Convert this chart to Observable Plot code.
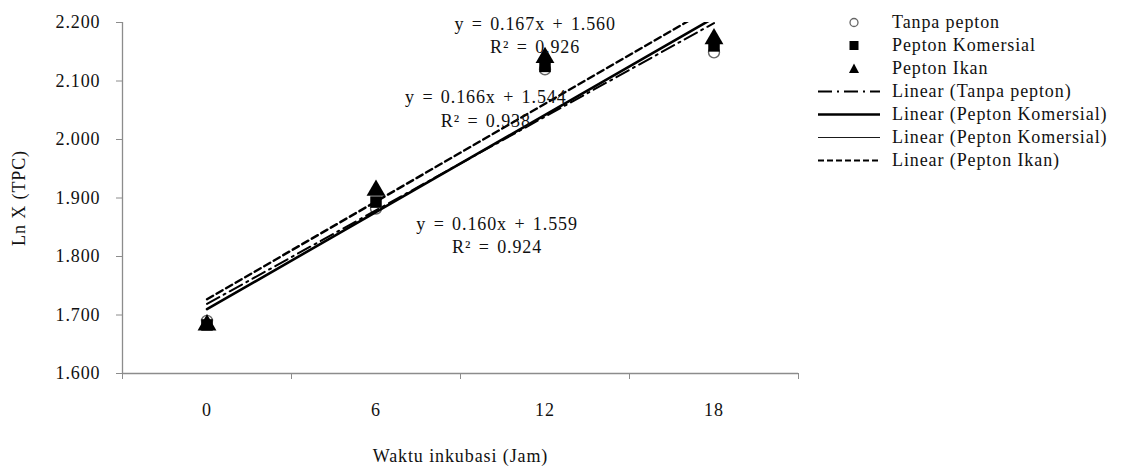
<!DOCTYPE html>
<html>
<head>
<meta charset="utf-8">
<script src="https://cdn.jsdelivr.net/npm/d3@7"></script>
<script src="https://cdn.jsdelivr.net/npm/@observablehq/plot@0.6"></script>
<style>
  html, body { margin: 0; padding: 0; background: #fff; }
  #wrap { position: relative; width: 1133px; height: 466px; font-family: "Liberation Serif", "Times New Roman", serif; }
  #legend { position: absolute; left: 816px; top: 11px; font-size: 18px; letter-spacing: 0.9px; color: #111; }
  .row { height: 23px; display: flex; align-items: center; }
  .row svg { width: 66px; height: 23px; flex: none; }
  .row span { margin-left: 10px; white-space: nowrap; }
  .eq { word-spacing: 2px; }
</style>
</head>
<body>
<div id="wrap"><div id="chart"></div><div id="legend"></div></div>
<script>
// ---- data ----
const jam = [0, 6, 12, 18];
const tanpaPepton     = [1.690, 1.882, 2.120, 2.149];
const peptonKomersial = [1.683, 1.893, 2.125, 2.160];
const peptonIkan      = [1.683, 1.913, 2.140, 2.172];

const seriesNames = ["Tanpa pepton", "Pepton Komersial", "Pepton Ikan"];

// trendline equations as printed (Excel x = category index 1..4)
const trendNames      = ["Linear (Tanpa pepton)", "Linear (Pepton Komersial)", "Linear (Pepton Komersial)", "Linear (Pepton Ikan)"];
const trendSlopes     = [0.160, 0.166, 0.166, 0.167];
const trendIntercepts = [1.559, 1.544, 1.544, 1.560];

const eqTexts = [
  "y = 0.167x + 1.560\nR² = 0.926",
  "y = 0.166x + 1.544\nR² = 0.938",
  "y = 0.160x + 1.559\nR² = 0.924"
];
const yTicks = [1.6, 1.7, 1.8, 1.9, 2.0, 2.1, 2.2];

// ---- build tables ----
const points = [];
[tanpaPepton, peptonKomersial, peptonIkan].forEach((arr, s) =>
  arr.forEach((v, i) => points.push({series: seriesNames[s], jam: jam[i], v})));

const trendStyles = [
  {stroke: "#000", strokeWidth: 2, strokeDasharray: "14,5,2,5"},
  {stroke: "#000", strokeWidth: 2.6},
  {stroke: "#000", strokeWidth: 1},
  {stroke: "#000", strokeWidth: 2.4, strokeDasharray: "7,4"}
];
const legendDash = ["14,5,2,5", null, null, "6,3"];
const trendLines = trendSlopes.map((m, k) =>
  [jam[0], jam[jam.length - 1]].map(h => ({jam: h, v: m * (h / 6 + 1) + trendIntercepts[k]})));

// annotation placement (layout, not data)
const eqPos = [{x: 11.65, y: 2.180}, {x: 9.9, y: 2.055}, {x: 10.3, y: 1.838}];

const font = "Liberation Serif, Times New Roman, serif";
const gray = "#8c8c8c";

const plot = Plot.plot({
  width: 1133,
  height: 466,
  marginLeft: 122,
  marginRight: 335,
  marginTop: 22,
  marginBottom: 93,
  style: {fontFamily: font, fontSize: "18px", color: "#111", letterSpacing: "0.9px", background: "#fff"},
  x: {domain: [-3, 21]},
  y: {domain: [1.6, 2.2]},
  marks: [
    Plot.ruleY([1.6], {stroke: gray, strokeWidth: 1.3}),
    Plot.ruleX([-3], {stroke: gray, strokeWidth: 1.3}),
    Plot.axisY({ticks: yTicks, tickFormat: d3.format(".3f"), tickSize: 6, tickPadding: 16, stroke: gray,
      label: "Ln X (TPC)", labelAnchor: "center", labelArrow: "none", labelOffset: 110}),
    Plot.axisX({ticks: [-3, 3, 9, 15, 21], tickSize: 6, tickFormat: () => "", stroke: gray, label: null}),
    Plot.axisX({ticks: jam, tickSize: 0, tickPadding: 30, tickFormat: d => String(d),
      label: "Waktu inkubasi (Jam)", labelAnchor: "center", labelArrow: "none", labelOffset: 88}),
    // points
    Plot.dot(points.filter(d => d.series === seriesNames[0]), {x: "jam", y: "v", symbol: "circle", r: 5.5, stroke: "#666", strokeWidth: 1.4, fill: "white"}),
    Plot.dot(points.filter(d => d.series === seriesNames[1]), {x: "jam", y: "v", symbol: "square", r: 6.5, fill: "#000", stroke: "none"}),
    Plot.dot(points.filter(d => d.series === seriesNames[2]), {x: "jam", y: "v", symbol: "triangle", r: 7, fill: "#000", stroke: "none"}),
    // trendlines
    ...trendLines.map((pts, k) => Plot.line(pts, {x: "jam", y: "v", clip: true, ...trendStyles[k]})),
    // equations
    ...eqTexts.map((t, k) => Plot.text([t], {x: () => eqPos[k].x, y: () => eqPos[k].y, text: d => d,
      fontSize: 18, lineHeight: 1.3, fill: "#111", textAnchor: "middle", className: "eq"}))
  ]
});
document.getElementById("chart").appendChild(plot);

// ---- legend ----
const legend = d3.select("#legend");
const legendItems = [
  {label: seriesNames[0], kind: "circle"},
  {label: seriesNames[1], kind: "square"},
  {label: seriesNames[2], kind: "triangle"},
  ...trendNames.map((n, k) => ({label: n, kind: "line", k}))
];
legendItems.forEach(it => {
  const row = legend.append("div").attr("class", "row");
  const svg = row.append("svg");
  if (it.kind === "circle") svg.append("circle").attr("cx", 38).attr("cy", 11.5).attr("r", 4).attr("fill", "white").attr("stroke", "#666").attr("stroke-width", 1.3);
  if (it.kind === "square") svg.append("rect").attr("x", 33.5).attr("y", 7).attr("width", 9).attr("height", 9).attr("fill", "#000");
  if (it.kind === "triangle") svg.append("path").attr("d", "M38,6.5L43,16L33,16Z").attr("fill", "#000");
  if (it.kind === "line") svg.append("line").attr("x1", 2).attr("x2", 64).attr("y1", 11.5).attr("y2", 11.5)
    .attr("stroke", "#000").attr("stroke-width", trendStyles[it.k].strokeWidth * 0.9)
    .attr("stroke-dasharray", legendDash[it.k]);
  row.append("span").text(it.label);
});
</script>
</body>
</html>
